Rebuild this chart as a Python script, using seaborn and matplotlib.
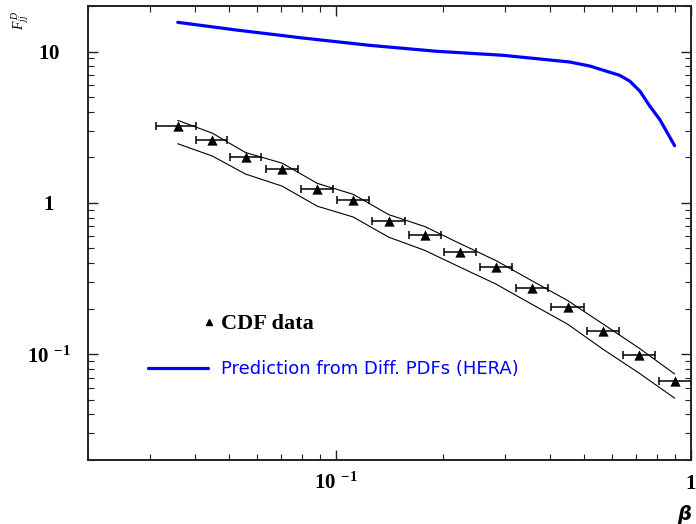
import numpy as np
import pandas as pd
import matplotlib
matplotlib.use("Agg")
import matplotlib.pyplot as plt
import seaborn as sns
from matplotlib.ticker import FixedLocator, FuncFormatter, LogLocator, NullFormatter
from matplotlib.lines import Line2D

# ---------------- data ----------------
beta = [0.0358, 0.0448, 0.0556, 0.0705, 0.0885, 0.1117, 0.1406, 0.178,
        0.224, 0.282, 0.356, 0.449, 0.566, 0.713, 0.899]
f_cdf = [3.20, 2.61, 2.00, 1.67, 1.23, 1.04, 0.759, 0.616,
         0.477, 0.378, 0.274, 0.206, 0.1425, 0.0994, 0.0667]
beta_lo = [0.0311, 0.0403, 0.0501, 0.0636, 0.0798, 0.1006, 0.1266, 0.160,
           0.2016, 0.254, 0.321, 0.404, 0.510, 0.643, 0.811]
beta_hi = [0.0402, 0.0493, 0.0614, 0.0782, 0.0983, 0.124, 0.156, 0.197,
           0.248, 0.313, 0.395, 0.498, 0.628, 0.791, 1.0]
band_upper = [3.51, 2.89, 2.15, 1.83, 1.346, 1.14, 0.837, 0.697,
              0.537, 0.416, 0.306, 0.2265, 0.158, 0.110, 0.0741]
band_lower = [2.46, 2.04, 1.55, 1.29, 0.951, 0.807, 0.594, 0.485,
              0.375, 0.291, 0.214, 0.158, 0.1076, 0.0752, 0.0513]

beta_pred = [0.0358, 0.0521, 0.0803, 0.124, 0.191, 0.295, 0.455, 0.519,
             0.630, 0.672, 0.718, 0.766, 0.817, 0.899]
f_pred = [15.6, 13.9, 12.3, 11.0, 10.05, 9.45, 8.53, 8.02,
          6.96, 6.38, 5.47, 4.35, 3.55, 2.39]

x_ticks = [0.1, 1]
x_tick_labels = [r"$\mathbf{10}^{\;\;\mathbf{-1}}$", r"$\mathbf{1}$"]
y_ticks = [0.1, 1, 10]
y_tick_labels = [r"$\mathbf{10}^{\;\;\mathbf{-1}}$", r"$\mathbf{1}$", r"$\mathbf{10}$"]

label_data = "CDF data"
label_pred = "Prediction from Diff. PDFs (HERA)"

# ---------------- style ----------------
sns.set_style("ticks")
plt.rcParams["font.family"] = ["Liberation Serif", "DejaVu Sans"]
plt.rcParams["mathtext.fontset"] = "custom"
plt.rcParams["mathtext.rm"] = "Liberation Serif"
plt.rcParams["mathtext.bf"] = "Liberation Serif:bold"
plt.rcParams["mathtext.it"] = "Liberation Serif:italic"
plt.rcParams["text.color"] = "black"
plt.rcParams["axes.labelcolor"] = "black"
plt.rcParams["xtick.color"] = "black"
plt.rcParams["ytick.color"] = "black"
plt.rcParams["xtick.labelcolor"] = "black"
plt.rcParams["ytick.labelcolor"] = "black"

fig = plt.figure(figsize=(6.96, 5.24), dpi=100)
ax = fig.add_axes([88 / 696, (524 - 460) / 524, (691 - 88) / 696, (460 - 6) / 524])
ax.set_xscale("log")
ax.set_yscale("log")

df_data = pd.DataFrame({"beta": beta, "F": f_cdf, "up": band_upper, "low": band_lower})
df_pred = pd.DataFrame({"beta": beta_pred, "F": f_pred})

sns.lineplot(data=df_pred, x="beta", y="F", ax=ax, color="#0000ff", lw=2.3,
             sort=False, estimator=None)
sns.lineplot(data=df_data, x="beta", y="up", ax=ax, color="black", lw=0.8,
             sort=False, estimator=None)
sns.lineplot(data=df_data, x="beta", y="low", ax=ax, color="black", lw=0.8,
             sort=False, estimator=None)

xerr = np.array([np.array(beta) - np.array(beta_lo), np.array(beta_hi) - np.array(beta)])
ax.errorbar(beta, f_cdf, xerr=xerr, fmt="none", ecolor="black", elinewidth=1.1,
            capsize=2.9, capthick=1.1)
sns.scatterplot(data=df_data, x="beta", y="F", ax=ax, marker="^", color="black",
                s=55, edgecolor="black", linewidth=0, zorder=5)

ax.set_xlim(0.02, 1)
ax.set_ylim(0.02, 20)

# ticks
ax.xaxis.set_major_locator(FixedLocator(x_ticks))
ax.xaxis.set_major_formatter(FuncFormatter(lambda v, p: x_tick_labels[x_ticks.index(v)] if v in x_ticks else ""))
ax.xaxis.set_minor_locator(LogLocator(base=10, subs=np.arange(2, 10)))
ax.xaxis.set_minor_formatter(NullFormatter())
ax.yaxis.set_major_locator(FixedLocator(y_ticks))
ax.yaxis.set_major_formatter(FuncFormatter(lambda v, p: y_tick_labels[y_ticks.index(v)] if v in y_ticks else ""))
ax.yaxis.set_minor_locator(LogLocator(base=10, subs=np.arange(2, 10)))
ax.yaxis.set_minor_formatter(NullFormatter())

ax.tick_params(which="both", direction="in", top=True, right=True, color="#222222",
               labelcolor="black")
ax.tick_params(which="major", length=7, width=1.0, labelsize=15)
ax.tick_params(which="minor", length=4, width=0.8)
ax.tick_params(axis="x", which="major", pad=21)
ax.tick_params(axis="y", which="major", pad=28)
for lab in ax.get_xticklabels():
    lab.set_verticalalignment("baseline")
for lab in ax.get_yticklabels():
    lab.set_horizontalalignment("center")

for sp in ax.spines.values():
    sp.set_linewidth(1.4)
    sp.set_color("#222222")

ax.set_xlabel("β", loc="right", fontsize=14, fontweight="bold", fontstyle="italic",
              family="DejaVu Sans", labelpad=8, color="black")
ax.set_ylabel(r"$F^{\,D}_{jj}$", loc="top", fontsize=10, fontweight="bold", color="black")
ax.yaxis.set_label_coords(-0.094, 0.99)

# legends
h_data = Line2D([], [], marker="^", ls="none", color="black", markersize=5)
leg1 = ax.legend([h_data], [label_data], loc="center left",
                 bbox_to_anchor=((203.5 - 88) / 603, (460 - 324) / 454),
                 frameon=False, borderpad=0, borderaxespad=0, handlelength=0.5,
                 handletextpad=0.3, prop={"family": "Liberation Serif", "weight": "bold", "size": 16})
for t in leg1.get_texts():
    t.set_color("black")
ax.add_artist(leg1)
h_pred = Line2D([], [], color="#0000ff", lw=2.3)
leg2 = ax.legend([h_pred], [label_pred], loc="center left",
                 bbox_to_anchor=((148 - 88) / 603, (460 - 369) / 454),
                 frameon=False, borderpad=0, borderaxespad=0, handlelength=3.3,
                 handletextpad=0.75, prop={"family": "DejaVu Sans", "size": 13})
for t in leg2.get_texts():
    t.set_color("#0000ff")

fig.savefig("out.png", dpi=100)
